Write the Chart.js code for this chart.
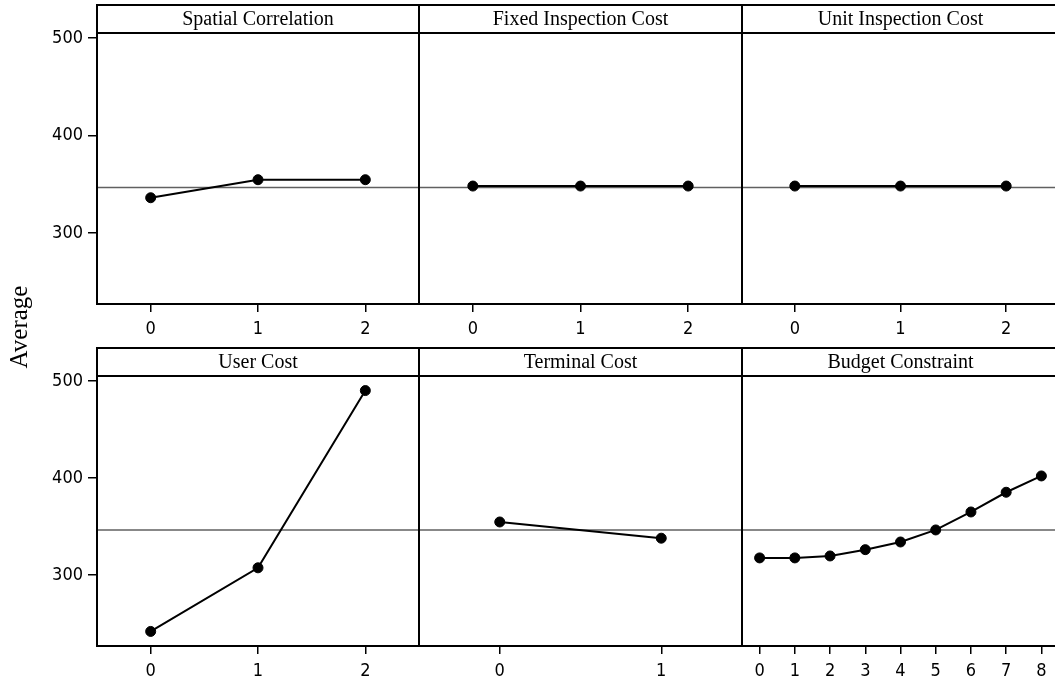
<!DOCTYPE html>
<html>
<head>
<meta charset="utf-8">
<script src="https://cdn.jsdelivr.net/npm/chart.js@4.4.1/dist/chart.umd.min.js"></script>
<style>
    html, body { margin: 0; padding: 0; background: #fff; overflow: hidden; }
    #wrap { position: relative; width: 1065px; height: 683px; }
    #wrap canvas { position: absolute; left: 0; top: 0; }
</style>
</head>
<body>
<div id="wrap"></div>
<script>
// Main effects data (averages per factor level)
const spatialLevels = [0, 1, 2];
const spatialMeans = [336, 354.5, 354.5];
const fixedLevels = [0, 1, 2];
const fixedMeans = [348, 348, 348];
const unitLevels = [0, 1, 2];
const unitMeans = [348, 348, 348];
const userLevels = [0, 1, 2];
const userMeans = [242, 307.5, 490];
const terminalLevels = [0, 1];
const terminalMeans = [354.7, 338];
const budgetLevels = [0, 1, 2, 3, 4, 5, 6, 7, 8];
const budgetMeans = [317.7, 317.7, 319.7, 326.2, 334.1, 346.5, 365, 385.3, 402.1];
const grandMean = 346.5;
const yTicks = [300, 400, 500];
const yMin = 227, yMax = 505;
const yTitle = 'Average';

const panels = [
    { title: 'Spatial Correlation', levels: spatialLevels, means: spatialMeans },
    { title: 'Fixed Inspection Cost', levels: fixedLevels, means: fixedMeans },
    { title: 'Unit Inspection Cost', levels: unitLevels, means: unitMeans },
    { title: 'User Cost', levels: userLevels, means: userMeans },
    { title: 'Terminal Cost', levels: terminalLevels, means: terminalMeans },
    { title: 'Budget Constraint', levels: budgetLevels, means: budgetMeans }
];

// Сітка панелей
const W = 1065, H = 683;
const colEdges = [97, 419, 742, 1065];
const rowTop = [5, 348];
const stripH = 28;
const plotBottom = [304, 646];
const yAxisW = 90, xAxisH = 30;
const sansFont = '"DejaVu Sans Condensed", "DejaVu Sans", sans-serif';
const serifFont = '"Liberation Serif", "DejaVu Serif", serif';

// Рамка і заголовок панелі
const framePlugin = {
    id: 'frame',
    afterDraw(chart, args, opts) {
        const a = chart.chartArea;
        const ctx = chart.ctx;
        const top = a.top - stripH;
        ctx.save();
        ctx.strokeStyle = '#000';
        ctx.lineWidth = 2;
        ctx.strokeRect(a.left, top, a.right - a.left, a.bottom - top);
        ctx.beginPath();
        ctx.moveTo(a.left, a.top);
        ctx.lineTo(a.right, a.top);
        ctx.stroke();
        ctx.fillStyle = '#000';
        ctx.font = '20px ' + serifFont;
        ctx.textAlign = 'center';
        ctx.textBaseline = 'middle';
        ctx.fillText(opts.title, (a.left + a.right) / 2, top + stripH / 2 + 1);
        if (opts.yTitle) {
            ctx.translate(27, 327);
            ctx.rotate(-Math.PI / 2);
            ctx.font = '25px ' + serifFont;
            ctx.textBaseline = 'alphabetic';
            ctx.fillText(opts.yTitle, 0, 0);
        }
        ctx.restore();
    }
};

const wrap = document.getElementById('wrap');

panels.forEach((p, i) => {
    const col = i % 3, row = Math.floor(i / 3);
    const canvas = document.createElement('canvas');
    canvas.width = W;
    canvas.height = H;
    wrap.appendChild(canvas);

    const xMin = p.levels[0] - 0.5;
    const xMax = p.levels[p.levels.length - 1] + 0.5;

    new Chart(canvas, {
        type: 'line',
        data: {
            datasets: [
                {
                    data: p.levels.map((x, k) => ({ x: x, y: p.means[k] })),
                    borderColor: '#000',
                    borderWidth: 2,
                    pointRadius: 5,
                    pointBackgroundColor: '#000',
                    pointBorderColor: '#000',
                    pointBorderWidth: 1,
                    order: 0
                },
                {
                    data: [{ x: xMin, y: grandMean }, { x: xMax, y: grandMean }],
                    borderColor: '#606060',
                    borderWidth: 1.5,
                    pointRadius: 0,
                    order: 1
                }
            ]
        },
        options: {
            responsive: false,
            animation: false,
            events: [],
            layout: {
                padding: {
                    left: col === 0 ? colEdges[0] - yAxisW : colEdges[col],
                    right: W - colEdges[col + 1],
                    top: rowTop[row] + stripH,
                    bottom: H - plotBottom[row] - xAxisH
                }
            },
            plugins: {
                legend: { display: false },
                tooltip: { enabled: false },
                frame: { title: p.title, yTitle: i === 0 ? yTitle : null }
            },
            scales: {
                x: {
                    type: 'linear',
                    min: xMin,
                    max: xMax,
                    afterBuildTicks: s => { s.ticks = p.levels.map(v => ({ value: v })); },
                    afterFit: s => { s.height = xAxisH; },
                    grid: { drawOnChartArea: false, drawTicks: true, tickLength: 8, color: '#000', lineWidth: 1.5 },
                    border: { display: false },
                    ticks: {
                        color: '#000',
                        font: { family: sansFont, size: 18 },
                        padding: 7,
                        maxRotation: 0,
                        autoSkip: false,
                        callback: v => String(v)
                    }
                },
                y: {
                    display: col === 0,
                    min: yMin,
                    max: yMax,
                    afterBuildTicks: s => { s.ticks = yTicks.map(v => ({ value: v })); },
                    afterFit: s => { s.width = col === 0 ? yAxisW : 0; },
                    grid: { drawOnChartArea: false, drawTicks: true, tickLength: 9, color: '#000', lineWidth: 1.5 },
                    border: { display: false },
                    ticks: {
                        color: '#000',
                        font: { family: sansFont, size: 18 },
                        padding: 5,
                        callback: v => String(v)
                    }
                }
            }
        },
        plugins: [framePlugin]
    });
});
</script>
</body>
</html>
